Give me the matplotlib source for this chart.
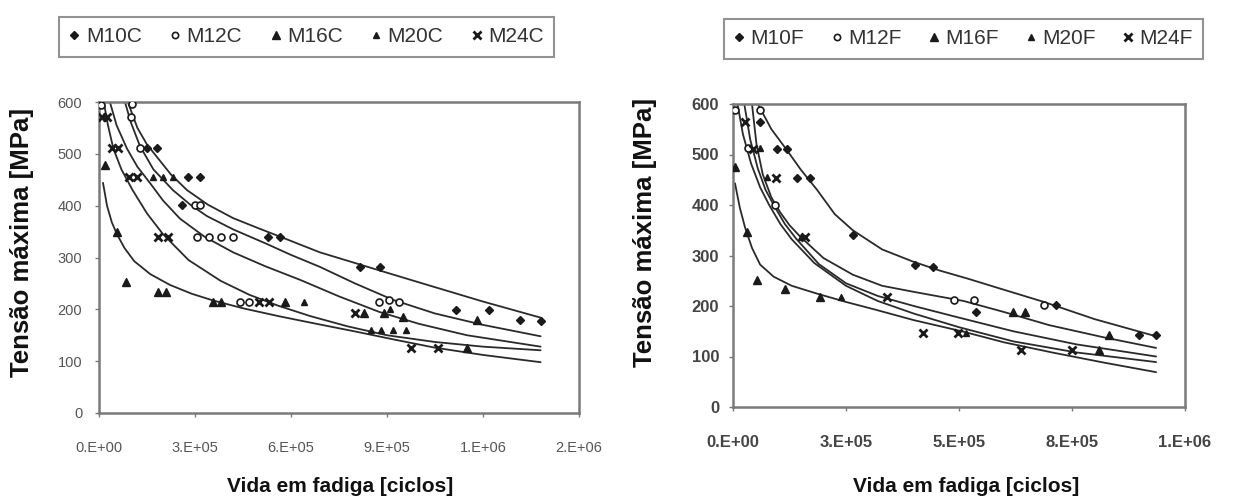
import matplotlib
matplotlib.use("Agg")
import matplotlib.pyplot as plt
from matplotlib.lines import Line2D

# ---------------- data: left panel (C series) ----------------
left_series = ["M10C", "M12C", "M16C", "M20C", "M24C"]
m10c_x = [150000, 181000, 278000, 316000, 259000, 528000, 566000, 815000, 878000, 1116000, 1220000, 1315000, 1380000]
m10c_y = [511, 511, 455, 455, 401, 340, 340, 282, 282, 199, 199, 179, 178]
m12c_x = [5000, 103000, 100000, 128000, 300000, 316000, 306000, 345000, 380000, 419000, 440000, 470000, 876000, 905000, 938000]
m12c_y = [595, 596, 571, 511, 401, 401, 340, 340, 340, 340, 214, 214, 214, 218, 214]
m16c_x = [19000, 56000, 84000, 184000, 210000, 357000, 380000, 581000, 828000, 890000, 950000, 1180000, 1150000]
m16c_y = [478, 349, 253, 233, 233, 214, 214, 214, 193, 193, 185, 179, 125]
m20c_x = [169000, 200000, 230000, 641000, 910000, 850000, 880000, 920000, 960000]
m20c_y = [455, 455, 455, 214, 200, 160, 160, 160, 160]
m24c_x = [10000, 25000, 40000, 60000, 95000, 120000, 185000, 215000, 500000, 530000, 800000, 975000, 1060000]
m24c_y = [571, 571, 511, 511, 455, 455, 340, 340, 214, 214, 193, 125, 125]

# trend curves (left panel)
lc1_x = [90000, 120000, 150000, 181000, 225000, 275000, 340000, 419000, 500000, 575000, 690000, 850000, 1000000, 1200000, 1380000]
lc1_y = [600, 550, 518, 494, 460, 430, 402, 376, 356, 338, 310, 280, 252, 215, 184]
lc2_x = [81000, 100000, 128000, 170000, 231000, 285000, 337000, 420000, 525000, 600000, 690000, 800000, 920000, 1050000, 1200000, 1380000]
lc2_y = [600, 560, 515, 470, 430, 402, 380, 354, 326, 305, 282, 250, 218, 192, 170, 148]
lc3_x = [34000, 55000, 87500, 120000, 159000, 200000, 253000, 330000, 419000, 520000, 628000, 750000, 876000, 1000000, 1150000, 1380000]
lc3_y = [600, 555, 510, 475, 444, 410, 375, 340, 310, 283, 257, 225, 195, 172, 150, 128]
lc4_x = [15000, 28000, 45000, 70000, 105000, 150000, 200000, 280000, 380000, 470000, 560000, 660000, 778000, 900000, 1050000, 1200000, 1380000]
lc4_y = [600, 555, 510, 470, 430, 385, 345, 295, 255, 228, 207, 187, 167, 150, 137, 128, 121]
lc5_x = [12500, 25000, 40000, 56000, 80000, 110000, 160000, 222000, 290000, 357000, 450000, 560000, 680000, 803000, 920000, 1050000, 1200000, 1380000]
lc5_y = [444, 400, 368, 345, 318, 293, 268, 247, 230, 217, 202, 187, 172, 157, 142, 126, 112, 98]

# ---------------- data: right panel (F series) ----------------
right_series = ["M10F", "M12F", "M16F", "M20F", "M24F"]
m10f_x = [60000, 97000, 119000, 142000, 170000, 265000, 403000, 442000, 537000, 714000, 898000, 936000]
m10f_y = [564, 510, 510, 453, 453, 340, 281, 277, 188, 202, 143, 143]
m12f_x = [4400, 60000, 33000, 93000, 489000, 533000, 688000]
m12f_y = [588, 588, 513, 400, 212, 212, 202]
m16f_x = [4400, 31000, 53000, 115000, 192000, 620000, 646000, 810000, 832000]
m16f_y = [475, 346, 251, 233, 218, 188, 188, 113, 143]
m20f_x = [60000, 75000, 150000, 515000, 240000]
m20f_y = [513, 455, 337, 146, 218]
m24f_x = [26500, 45000, 95000, 160000, 340000, 420000, 498000, 637000, 750000]
m24f_y = [564, 510, 453, 337, 218, 146, 146, 113, 113]

rc1_x = [55000, 85000, 119000, 150000, 186000, 225000, 265000, 330000, 398000, 458000, 520000, 600000, 688000, 800000, 936000]
rc1_y = [600, 550, 509, 470, 430, 382, 350, 312, 288, 270, 254, 232, 208, 174, 140]
rc2_x = [42000, 52000, 66000, 85000, 104000, 125000, 148000, 200000, 265000, 330000, 400000, 510000, 600000, 700000, 820000, 936000]
rc2_y = [600, 520, 460, 415, 386, 360, 338, 295, 262, 240, 228, 210, 188, 162, 138, 117]
rc3_x = [25000, 38000, 55000, 72000, 90000, 115000, 140000, 190000, 250000, 320000, 400000, 500000, 620000, 760000, 936000]
rc3_y = [600, 530, 472, 430, 400, 362, 333, 283, 245, 220, 200, 177, 150, 124, 100]
rc4_x = [10000, 22000, 40000, 60000, 80000, 105000, 130000, 180000, 250000, 320000, 400000, 500000, 620000, 760000, 936000]
rc4_y = [600, 540, 482, 435, 400, 362, 332, 285, 240, 210, 185, 158, 130, 108, 89]
rc5_x = [4400, 15000, 26500, 42000, 60000, 90000, 130000, 184000, 250000, 314000, 400000, 506000, 600000, 706000, 820000, 936000]
rc5_y = [443, 395, 356, 315, 282, 258, 240, 225, 208, 193, 172, 150, 128, 108, 88, 69]

yticks = [0, 100, 200, 300, 400, 500, 600]
left_xticks = [0, 300000, 600000, 900000, 1200000, 1500000]
left_xlabels = ["0.E+00", "3.E+05", "6.E+05", "9.E+05", "1.E+06", "2.E+06"]
right_xticks = [0, 250000, 500000, 750000, 1000000]
right_xlabels = ["0.E+00", "3.E+05", "5.E+05", "8.E+05", "1.E+06"]

ylabel = "Tensão máxima [MPa]"
xlabel = "Vida em fadiga [ciclos]"

# ---------------- styling ----------------
plt.rcParams['font.family'] = ['Liberation Sans', 'DejaVu Sans']
INK = "#1a1a1a"
SPINE = "#7a7a7a"
W, H = 1236, 499

marker_styles = [
    dict(marker="D", ms=4.5, mfc=INK, mec=INK),
    dict(marker="o", ms=5, mfc="white", mec=INK, mew=1.2),
    dict(marker="^", ms=6, mfc=INK, mec=INK),
    dict(marker="^", ms=5, mfc=INK, mec=INK),
    dict(marker="x", ms=6, mfc=INK, mec=INK, mew=2.0),
]

fig = plt.figure(figsize=(W / 100, H / 100), dpi=100)
axL = fig.add_axes([99 / W, 1 - 413 / H, 480 / W, 311 / H])
axR = fig.add_axes([733 / W, 1 - 407 / H, 452 / W, 303 / H])

left_pts = [(m10c_x, m10c_y), (m12c_x, m12c_y), (m16c_x, m16c_y), (m20c_x, m20c_y), (m24c_x, m24c_y)]
right_pts = [(m10f_x, m10f_y), (m12f_x, m12f_y), (m16f_x, m16f_y), (m20f_x, m20f_y), (m24f_x, m24f_y)]
left_curves = [(lc1_x, lc1_y), (lc2_x, lc2_y), (lc3_x, lc3_y), (lc4_x, lc4_y), (lc5_x, lc5_y)]
right_curves = [(rc1_x, rc1_y), (rc2_x, rc2_y), (rc3_x, rc3_y), (rc4_x, rc4_y), (rc5_x, rc5_y)]


def draw(ax, pts, curves, xlim, xticks, xlabels, tick_fs, tick_color, tick_weight, xpad, ypad):
    for cx, cy in curves:
        ax.plot(cx, cy, color="#2a2a2a", lw=1.3, zorder=2, solid_capstyle="round",
                solid_joinstyle="round")
    for (px, py), st in zip(pts, marker_styles):
        ax.plot(px, py, ls="none", zorder=3, **st)
    ax.set_xlim(*xlim)
    ax.set_ylim(0, 600)
    ax.set_yticks(yticks)
    ax.set_xticks(xticks)
    ax.set_xticklabels(xlabels)
    for s in ax.spines.values():
        s.set_color(SPINE)
        s.set_linewidth(1.8)
    ax.tick_params(axis="both", direction="out", length=3, width=1, color=SPINE,
                   labelsize=tick_fs, labelcolor=tick_color)
    ax.tick_params(axis="x", pad=xpad)
    ax.tick_params(axis="y", pad=ypad)
    for lab in ax.get_xticklabels() + ax.get_yticklabels():
        lab.set_fontweight(tick_weight)


draw(axL, left_pts, left_curves, (0, 1500000), left_xticks, left_xlabels, 10.5, "#555555", "normal", 17, 9)
draw(axR, right_pts, right_curves, (0, 1000000), right_xticks, right_xlabels, 12, "#444444", "bold", 17, 7)

# axis titles placed in figure pixels
fig.text(22 / W, 1 - 242 / H, ylabel, rotation=90, ha="center", va="center",
         fontsize=18.5, fontweight="bold", color="#111111")
fig.text(340 / W, 1 - 487 / H, xlabel, ha="center", va="center",
         fontsize=15, fontweight="bold", color="#111111")
fig.text(645 / W, 1 - 232 / H, ylabel, rotation=90, ha="center", va="center",
         fontsize=18.5, fontweight="bold", color="#111111")
fig.text(966 / W, 1 - 487 / H, xlabel, ha="center", va="center",
         fontsize=15, fontweight="bold", color="#111111")


def handles(names):
    hs = []
    for name, st in zip(names, marker_styles):
        st2 = dict(st)
        st2["ms"] = st2["ms"] * 0.9
        hs.append(Line2D([], [], ls="none", label=name, **st2))
    return hs


def legend(names, cx, cy, fs, colsp):
    leg = fig.legend(handles=handles(names), loc="center", ncol=5,
                     bbox_to_anchor=(cx / W, 1 - cy / H), frameon=True, fancybox=False,
                     fontsize=fs, handlelength=0.5, handletextpad=0.3, columnspacing=colsp,
                     borderpad=0.5, borderaxespad=0, labelcolor="#333333")
    leg.get_frame().set_edgecolor("#777777")
    leg.get_frame().set_linewidth(1.5)
    return leg


legend(left_series, 306.5, 37, 15, 1.35)
legend(right_series, 963.5, 39, 15, 1.3)

fig.savefig("out.png", dpi=100)
